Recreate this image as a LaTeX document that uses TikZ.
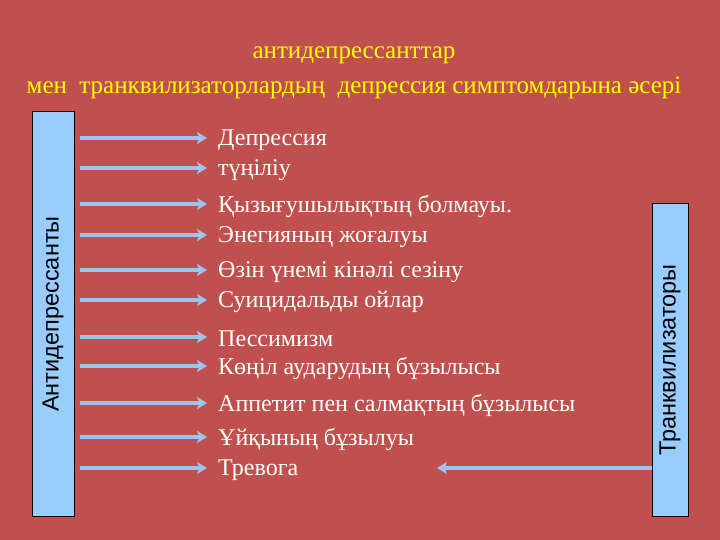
\documentclass[tikz,border=0pt]{standalone}
\usepackage{fontspec}
\setmainfont{Liberation Serif}
\newfontfamily\barfont{Liberation Sans}
\usetikzlibrary{arrows.meta}
\definecolor{slidered}{HTML}{C0504D}
\definecolor{barblue}{HTML}{99CCFF}
\definecolor{arrowblue}{HTML}{9DC3F0}
\definecolor{titleyellow}{HTML}{FFFF00}
\tikzset{
  symptom/.style={anchor=west, text=white, inner sep=0pt,
    font=\fontsize{24}{28}\selectfont, yshift=-2pt},
  heading/.style={text=titleyellow, inner sep=0pt,
    font=\fontsize{25}{29}\selectfont},
  drugbar/.style={draw=black, fill=barblue, line width=1pt, inner sep=0pt},
  barlabel/.style={rotate=90, inner sep=0pt,
    font=\barfont\fontsize{23.5}{27}\selectfont},
  effect/.style={draw=arrowblue, line width=3.4pt,
    -{Stealth[length=10pt,width=12pt,inset=2.5pt]}},
  toleft/.style={effect, shorten <=5pt, shorten >=11pt,
    transform canvas={yshift=2pt}}
}
\begin{document}
\begin{tikzpicture}[x=1pt, y=-1pt]
    \useasboundingbox (0, 0) rectangle (720, 540);
    \fill [slidered] (0, 0) rectangle (720, 540);
    % title
    \node [heading] (head1) at (354, 55) {антидепрессанттар};
    \node [heading] (head2) at (354, 88) {мен\ \ транквилизаторлардың\ \ депрессия симптомдарына әсері};
    % bars
    \node [drugbar, minimum width=42pt, minimum height=404pt] (antidep) at (53, 314) {};
    \node [barlabel] (antidepname) at (antidep.center) {Антидепрессанты};
    \node [drugbar, minimum width=36pt, minimum height=312pt] (tranq) at (670, 360) {};
    \node [barlabel] (tranqname) at (tranq.center) {Транквилизаторы};
    % symptoms
    \node [symptom] (s1) at (218, 138) {Депрессия};
    \node [symptom] (s2) at (218, 168) {түңіліу};
    \node [symptom] (s3) at (218, 204) {Қызығушылықтың болмауы.};
    \node [symptom] (s4) at (218, 235) {Энегияның жоғалуы};
    \node [symptom] (s5) at (218, 270) {Өзін үнемі кінәлі сезіну};
    \node [symptom] (s6) at (218, 300) {Суицидальды ойлар};
    \node [symptom] (s7) at (218, 337) {Пессимизм};
    \node [symptom] (s8) at (218, 366) {Көңіл аударудың бұзылысы};
    \node [symptom] (s9) at (218, 403) {Аппетит пен салмақтың бұзылысы};
    \node [symptom] (s10) at (218, 437) {Ұйқының бұзылуы};
    \node [symptom] (s11) at (218, 468) {Тревога};
    % antidepressant arrows
    \draw [toleft] (antidep.east |- s1.west) -- (s1.west);
    \draw [toleft] (antidep.east |- s2.west) -- (s2.west);
    \draw [toleft] (antidep.east |- s3.west) -- (s3.west);
    \draw [toleft] (antidep.east |- s4.west) -- (s4.west);
    \draw [toleft] (antidep.east |- s5.west) -- (s5.west);
    \draw [toleft] (antidep.east |- s6.west) -- (s6.west);
    \draw [toleft] (antidep.east |- s7.west) -- (s7.west);
    \draw [toleft] (antidep.east |- s8.west) -- (s8.west);
    \draw [toleft] (antidep.east |- s9.west) -- (s9.west);
    \draw [toleft] (antidep.east |- s10.west) -- (s10.west);
    \draw [toleft] (antidep.east |- s11.west) -- (s11.west);
    % tranquilizer arrow
    \coordinate (anxtip) at (437, 468);
    \draw [effect] (tranq.west |- anxtip) -- (anxtip);
\end{tikzpicture}
\end{document}
